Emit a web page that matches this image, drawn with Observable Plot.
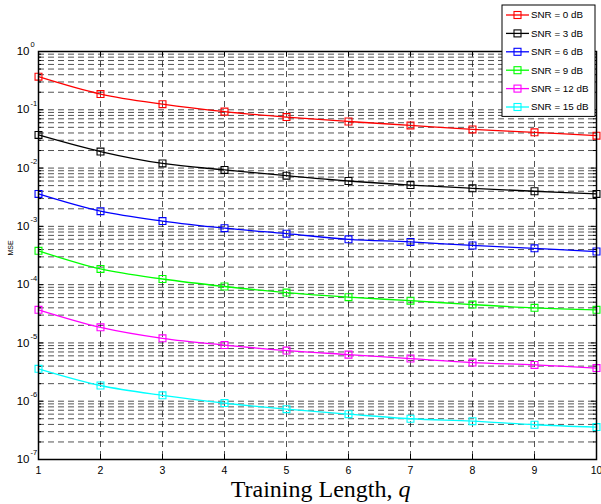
<!DOCTYPE html>
<html>
<head>
<meta charset="utf-8">
<script src="https://cdn.jsdelivr.net/npm/d3@7"></script>
<script src="https://cdn.jsdelivr.net/npm/@observablehq/plot@0.6"></script>
<style>
  html, body { margin: 0; padding: 0; background: #fff; }
  #chart svg { display: block; }
</style>
</head>
<body>
<div id="chart"></div>
<script>
// ---- data ----
const trainingLength = [1, 2, 3, 4, 5, 6, 7, 8, 9, 10];
const seriesLabels = ["SNR = 0 dB", "SNR = 3 dB", "SNR = 6 dB", "SNR = 9 dB", "SNR = 12 dB", "SNR = 15 dB"];
const seriesColors = ["#ff0000", "#000000", "#0000ff", "#00ff00", "#ff00ff", "#00ffff"];
const mseSnr0  = [0.37, 0.186, 0.125, 0.093, 0.075, 0.063, 0.054, 0.046, 0.041, 0.036];
const mseSnr3  = [0.037, 0.0192, 0.012, 0.0093, 0.0074, 0.006, 0.0051, 0.0045, 0.004, 0.0036];
const mseSnr6  = [3.6e-3, 1.82e-3, 1.23e-3, 9.3e-4, 7.5e-4, 6.0e-4, 5.4e-4, 4.7e-4, 4.2e-4, 3.7e-4];
const mseSnr9  = [3.8e-4, 1.86e-4, 1.25e-4, 9.3e-5, 7.3e-5, 6.1e-5, 5.3e-5, 4.55e-5, 4.0e-5, 3.7e-5];
const mseSnr12 = [3.7e-5, 1.85e-5, 1.2e-5, 9.2e-6, 7.4e-6, 6.3e-6, 5.4e-6, 4.6e-6, 4.2e-6, 3.7e-6];
const mseSnr15 = [3.6e-6, 1.86e-6, 1.26e-6, 9.3e-7, 7.3e-7, 6.0e-7, 5.0e-7, 4.55e-7, 3.95e-7, 3.6e-7];
const yTickValues = [1, 1e-1, 1e-2, 1e-3, 1e-4, 1e-5, 1e-6, 1e-7];
const yTickExponents = ["0", "-1", "-2", "-3", "-4", "-5", "-6", "-7"];
const xLabel = "Training Length,";
const xLabelVar = "q";
const yLabel = "MSE";

// ---- build table ----
const allSeries = [mseSnr0, mseSnr3, mseSnr6, mseSnr9, mseSnr12, mseSnr15];
const data = allSeries.flatMap((vals, i) =>
  vals.map((v, j) => ({ series: seriesLabels[i], x: trainingLength[j], y: v })));

// log grid values (1..9 x 10^k)
const yGrid = [];
for (let k = -7; k < 0; k++) for (let m = 1; m <= 9; m++) yGrid.push(m * Math.pow(10, k));
yGrid.push(1);
const yMinor = yGrid.filter(v => !yTickValues.includes(v));

const W = 601, H = 504, mT = 51, mL = 38, mR = 5, mB = 45;
const pw = W - mL - mR, ph = H - mT - mB;
const sans = "Liberation Sans, Arial, sans-serif";
const serif = "Liberation Serif, Times New Roman, serif";
const dash = { stroke: "#000", strokeWidth: 0.8, strokeDasharray: "6,4", strokeOpacity: 0.85 };

const chart = Plot.plot({
  width: W, height: H,
  marginTop: mT, marginLeft: mL, marginRight: mR, marginBottom: mB,
  style: { fontFamily: sans, background: "#fff" },
  x: { domain: [1, 10], axis: null },
  y: { type: "log", domain: [1e-7, 1], axis: null },
  color: { domain: seriesLabels, range: seriesColors },
  marks: [
    Plot.ruleY(yGrid, { y: d => d, ...dash }),
    Plot.ruleX(trainingLength.slice(1, -1), { x: d => d, ...dash }),
    // inward ticks (y1 = top, y2 = bottom)
    Plot.ruleX(trainingLength, { x: d => d, y1: 1, y2: 1e-7, insetTop: ph - 5, stroke: "#000" }),
    Plot.ruleX(trainingLength, { x: d => d, y1: 1, y2: 1e-7, insetBottom: ph - 5, stroke: "#000" }),
    Plot.ruleY(yTickValues, { y: d => d, x1: 1, x2: 10, insetRight: pw - 5, stroke: "#000" }),
    Plot.ruleY(yTickValues, { y: d => d, x1: 1, x2: 10, insetLeft: pw - 5, stroke: "#000" }),
    Plot.ruleY(yMinor, { y: d => d, x1: 1, x2: 10, insetRight: pw - 3, stroke: "#000" }),
    Plot.ruleY(yMinor, { y: d => d, x1: 1, x2: 10, insetLeft: pw - 3, stroke: "#000" }),
    // series
    Plot.line(data, { x: "x", y: "y", z: "series", stroke: "series", strokeWidth: 1.3, curve: "catmull-rom" }),
    Plot.dot(data, { x: "x", y: "y", stroke: "series", symbol: "square", r: 3.9, fill: "none", strokeWidth: 1.1 }),
    Plot.frame({ stroke: "#000", strokeWidth: 1.5 }),
    // tick labels
    Plot.text(yTickValues, { x: 1, y: d => d, text: () => "10", textAnchor: "end", dx: -9, dy: 0, fontSize: 11.5, lineAnchor: "middle", fill: "#000" }),
    Plot.text(yTickValues, { x: 1, y: d => d, text: (d, i) => yTickExponents[i], textAnchor: "start", dx: -8, dy: -6.5, fontSize: 7.5, lineAnchor: "middle", fill: "#000" }),
    Plot.text(trainingLength, { x: d => d, y: 1e-7, text: d => String(d), dy: 11, fontSize: 10.5, lineAnchor: "middle", fill: "#000" }),
    // axis labels
    Plot.text([yLabel], { frameAnchor: "left", text: d => d, rotate: -90, dx: -28, fontSize: 7, fill: "#000" }),
    Plot.text([xLabel], { frameAnchor: "bottom", text: d => d, textAnchor: "end", lineAnchor: "bottom", dx: 75, dy: 37, fontSize: 24, fontFamily: serif, fill: "#000" }),
    Plot.text([xLabelVar], { frameAnchor: "bottom", text: d => d, textAnchor: "start", lineAnchor: "bottom", dx: 81, dy: 37, fontSize: 24, fontStyle: "italic", fontFamily: serif, fill: "#000" })
  ]
});

// ---- legend (top right, overlapping plot) ----
const svg = d3.select(chart);
const lg = svg.append("g").attr("font-family", sans).attr("font-size", 9.8).attr("text-anchor", "start");
const lx = 502, ly = 5, lw = 93, rowH = 18.4;
lg.append("rect").attr("x", lx).attr("y", ly).attr("width", lw).attr("height", rowH * seriesLabels.length + 1)
  .attr("fill", "#fff").attr("stroke", "#000").attr("stroke-width", 1);
seriesLabels.forEach((lab, i) => {
  const cy = ly + 10 + rowH * i;
  lg.append("line").attr("x1", lx + 4).attr("x2", lx + 27).attr("y1", cy).attr("y2", cy)
    .attr("stroke", seriesColors[i]).attr("stroke-width", 1.3);
  lg.append("rect").attr("x", lx + 15.5 - 3.5).attr("y", cy - 3.5).attr("width", 7).attr("height", 7)
    .attr("fill", "none").attr("stroke", seriesColors[i]).attr("stroke-width", 1.1);
  lg.append("text").attr("x", lx + 29).attr("y", cy).attr("dy", "0.35em").attr("fill", "#000").text(lab);
});

document.getElementById("chart").appendChild(chart);
</script>
</body>
</html>
